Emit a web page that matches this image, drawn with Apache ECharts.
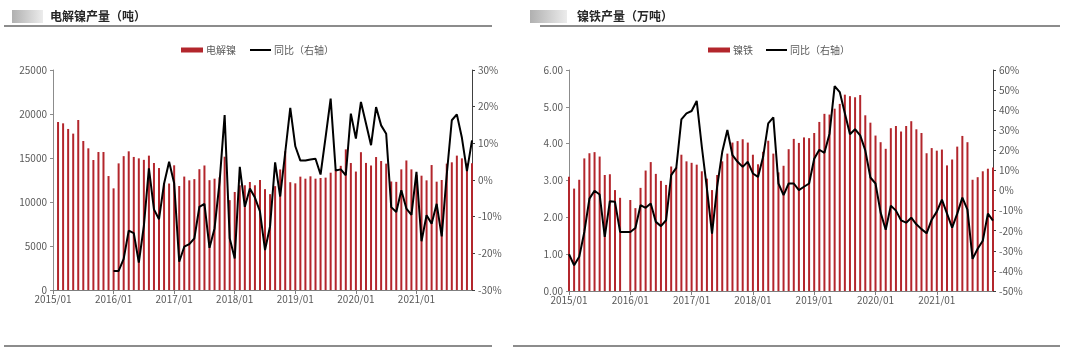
<!DOCTYPE html>
<html>
<head>
<meta charset="utf-8">
<script src="https://cdn.jsdelivr.net/npm/echarts@6/dist/echarts.min.js"></script>
<style>
html,body{margin:0;padding:0;background:#fff}
#main{width:1080px;height:351px}
</style>
</head>
<body>
<div id="main"></div>
<script>
// 月份 2015/01 - 2021/12
var months = [];
for (var y = 2015; y <= 2021; y++) {
  for (var m = 1; m <= 12; m++) months.push(y + '/' + (m < 10 ? '0' + m : m));
}

// 电解镍产量（吨）
var nickelOutput = [
  null, 19090, 18940, 18300, 17770, 19320, 16930, 16100, 14770, 15680, 15680, 12950,
  11550, 14390, 15210, 15760, 15120, 14960, 14790, 15270, 14430, 13860, 12150, 12100,
  14170, 11820, 12890, 12460, 12600, 13730, 14150, 12480, 12650, 12800, 15150, 10210,
  11140, 11900, 11900, 12270, 11900, 12500, 11460, 10890, 11800, 13700, 15770, 12250,
  12120, 12880, 12650, 12920, 12650, 12730, 12770, 13330, 13680, 14110, 15980, 14430,
  13460, 15660, 14440, 14150, 15110, 14660, 14360, 12330, 12290, 13710, 14720, 13710,
  13070, 12990, 12460, 14200, 12310, 12500, 14360, 14510, 15270, 14960, 14390, 14400
];
// 电解镍同比（%，右轴）
var nickelYoY = [
  null, null, null, null, null, null, null, null, null, null, null, null,
  -24.8, -24.8, -21.5, -13.8, -14.5, -22.5, -12.5, 3.2, -8.0, -10.7, -1.0, 5.0,
  -0.9, -22.3, -18.2, -17.5, -15.9, -7.3, -6.5, -18.5, -13.2, -0.5, 17.7, -15.9,
  -21.4, 3.6, -7.3, -2.3, -4.8, -8.6, -19.1, -12.6, 4.8, -4.5, 7.5, 19.7,
  9.2, 5.3, 5.3, 5.6, 5.8, 1.5, 11.7, 22.2, 2.6, 2.9, 1.3, 18.1,
  11.3, 21.3, 15.4, 9.5, 19.9, 14.9, 12.6, -7.4, -8.7, -2.8, -7.8, -9.5,
  2.2, -16.7, -9.6, -11.9, -6.5, -15.4, 1.5, 16.3, 17.9, 11.5, 2.4, 10.8
];

// 镍铁产量（万吨）
var ferroOutput = [
  3.10, 2.78, 3.02, 3.60, 3.74, 3.77, 3.65, 3.15, 3.17, 2.74, 2.53, null,
  2.47, 2.25, 2.80, 3.27, 3.50, 3.18, 2.99, 2.88, 3.38, 3.35, 3.70, 3.52,
  3.48, 3.43, 3.25, 3.05, 2.74, 3.15, 3.52, 3.73, 4.03, 4.07, 4.12, 4.03,
  3.70, 3.44, 3.78, 4.08, 3.73, 3.22, 3.40, 3.85, 4.13, 4.02, 4.17, 4.15,
  4.29, 4.59, 4.81, 4.79, 4.95, 5.08, 5.33, 5.29, 5.26, 5.32, 4.77, 4.57,
  4.22, 4.04, 3.86, 4.42, 4.48, 4.33, 4.48, 4.61, 4.39, 4.29, 3.74, 3.88,
  3.81, 3.84, 3.41, 3.57, 3.92, 4.21, 4.04, 3.02, 3.09, 3.25, 3.32, 3.35
];
// 镍铁同比（%，右轴）
var ferroYoY = [
  -31.7, -37.2, -33.0, -20.6, -4.0, -0.1, -2.0, -23.1, -5.3, -5.6, -20.6, -20.6,
  -20.6, -18.6, -7.3, -8.6, -6.4, -15.6, -17.7, -14.8, 7.7, 11.3, 35.4, 38.4,
  39.6, 44.6, 21.8, 1.0, -21.4, 1.9, 19.3, 30.1, 17.6, 14.3, 11.8, 14.3,
  8.5, 6.8, 16.8, 33.4, 36.4, 3.5, -2.3, 3.5, 3.5, 0.2, 1.9, 3.5,
  15.8, 20.3, 18.8, 28.3, 52.0, 49.0, 38.5, 28.0, 30.5, 27.5, 20.0, 6.5,
  3.5, -11.0, -19.5, -7.5, -10.0, -14.8, -16.0, -13.5, -16.8, -19.2, -21.3, -14.5,
  -10.5, -4.5, -11.5, -18.5, -11.5, -3.5, -9.5, -34.0, -29.0, -25.0, -11.5, -15.0
];

var font = '"Noto Sans CJK SC", "Noto Sans", sans-serif';
var barRed = '#B3262C';
var txt = '#595959';
var everyYear = function (i) { return i % 12 === 0; };

function xAxisFor(g) {
  return {
    gridIndex: g, type: 'category', data: months, boundaryGap: false,
    axisLine: { lineStyle: { color: '#7f7f7f', width: 1 } },
    axisTick: { interval: everyYear, length: 4, lineStyle: { color: '#7f7f7f' } },
    axisLabel: { interval: everyYear, showMinLabel: true, margin: 4, color: txt, fontSize: 10, fontFamily: font },
    splitLine: { show: false }
  };
}
function yAxisFor(g, pos, min, max, step, fmt, lineColor) {
  return {
    gridIndex: g, type: 'value', position: pos, min: min, max: max, interval: step,
    axisLine: { show: true, lineStyle: { color: lineColor } },
    axisTick: { show: true, length: 3, lineStyle: { color: lineColor } },
    axisLabel: { margin: 6, color: txt, fontSize: 10, fontFamily: font, formatter: fmt },
    splitLine: { show: false }
  };
}
function logo(x, w) {
  return {
    type: 'rect', shape: { x: x, y: 10, width: w, height: 13 },
    style: { fill: new echarts.graphic.LinearGradient(0, 0, 1, 0, [
      { offset: 0, color: '#b0b0b0' }, { offset: 1, color: '#ececec' }]) }
  };
}
function rule(x1, x2, y) {
  return { type: 'line', shape: { x1: x1, y1: y, x2: x2, y2: y }, style: { stroke: '#8c8c8c', lineWidth: 2 } };
}
function title(x, s) {
  return { type: 'text', x: x, y: 16, style: { text: s, fontSize: 12, fontWeight: 'bold', fontFamily: font, fill: '#262626', verticalAlign: 'middle' } };
}
function legendItem(left, name, isLine) {
  return {
    left: left, top: 40, data: [name], icon: 'rect',
    itemWidth: isLine ? 21 : 22, itemHeight: isLine ? 2 : 5, itemGap: 0,
    textStyle: { color: txt, fontSize: 10, fontFamily: font, padding: [0, 0, 0, -2] }
  };
}
function plain(v) { return String(v); }

var chart = echarts.init(document.getElementById('main'));
chart.setOption({
  animation: false,
  backgroundColor: '#fff',
  textStyle: { fontFamily: font },
  graphic: [
    logo(12, 31), title(50, '电解镍产量（吨）'), rule(4, 492, 26), rule(4, 492, 346),
    logo(530, 37), title(577, '镍铁产量（万吨）'), rule(540, 1060, 26), rule(513, 1060, 346)
  ],
  legend: [
    legendItem(176, '电解镍', false),
    legendItem(245, '同比（右轴）', true),
    legendItem(703, '镍铁', false),
    legendItem(761, '同比（右轴）', true)
  ],
  grid: [
    { left: 53, top: 70, width: 419, height: 220, outerBoundsMode: 'none' },
    { left: 569, top: 70, width: 424, height: 221, outerBoundsMode: 'none' }
  ],
  xAxis: [xAxisFor(0), xAxisFor(1)],
  yAxis: [
    yAxisFor(0, 'left', 0, 25000, 5000, plain, '#8c8c8c'),
    yAxisFor(0, 'right', -30, 30, 10, '{value}%', '#404040'),
    yAxisFor(1, 'left', 0, 6, 1, function (v) { return v.toFixed(2); }, '#8c8c8c'),
    yAxisFor(1, 'right', -50, 60, 10, '{value}%', '#404040')
  ],
  series: [
    { name: '电解镍', type: 'bar', xAxisIndex: 0, yAxisIndex: 0, data: nickelOutput,
      barWidth: 2, itemStyle: { color: barRed } },
    { name: '同比（右轴）', type: 'line', xAxisIndex: 0, yAxisIndex: 1, data: nickelYoY,
      symbol: 'none', lineStyle: { color: '#000', width: 2 }, itemStyle: { color: '#000' } },
    { name: '镍铁', type: 'bar', xAxisIndex: 1, yAxisIndex: 2, data: ferroOutput,
      barWidth: 2, itemStyle: { color: barRed } },
    { name: '同比（右轴）', type: 'line', xAxisIndex: 1, yAxisIndex: 3, data: ferroYoY,
      symbol: 'none', lineStyle: { color: '#000', width: 2 }, itemStyle: { color: '#000' } }
  ]
});
</script>
</body>
</html>
